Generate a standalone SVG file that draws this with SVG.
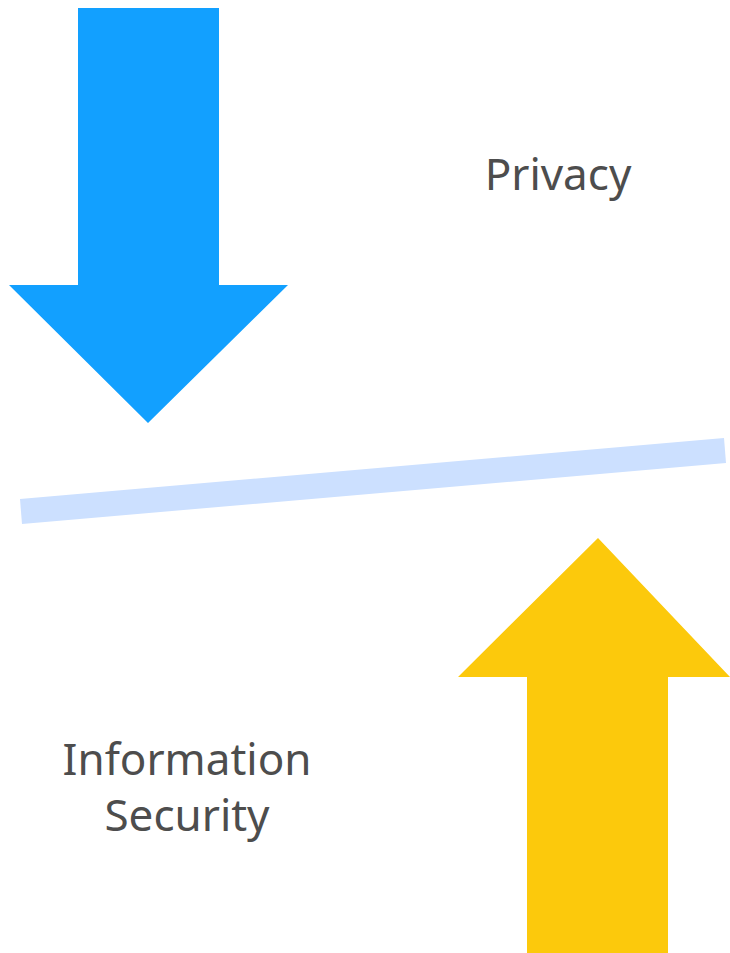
<svg xmlns="http://www.w3.org/2000/svg" width="730" height="953" viewBox="0 0 730 953">
<style>
.lbl{font-family:"Noto Sans","Open Sans","Liberation Sans",sans-serif;font-size:44px;fill:#4D4D4D;text-anchor:middle}
</style>
<rect width="730" height="953" fill="#FFFFFF"/>
<g id="blue-arrow"><polygon points="78,8 219,8 219,285 288,285 148,423 9,285 78,285" fill="#12A0FF"/></g>
<g id="balance-line"><polygon points="20,499 724,438 726,463 22,524" fill="#CCE0FF"/></g>
<g id="yellow-arrow"><polygon points="598,538 730,677 668,677 668,953 527,953 527,677 458,677" fill="#FCC90C"/></g>
<g id="privacy"><text class="lbl" x="558" y="190">Privacy</text></g>
<g id="infosec"><text class="lbl" x="187" y="775">Information</text><text class="lbl" x="187" y="831">Security</text></g>
<g id="connectors"/>
</svg>
